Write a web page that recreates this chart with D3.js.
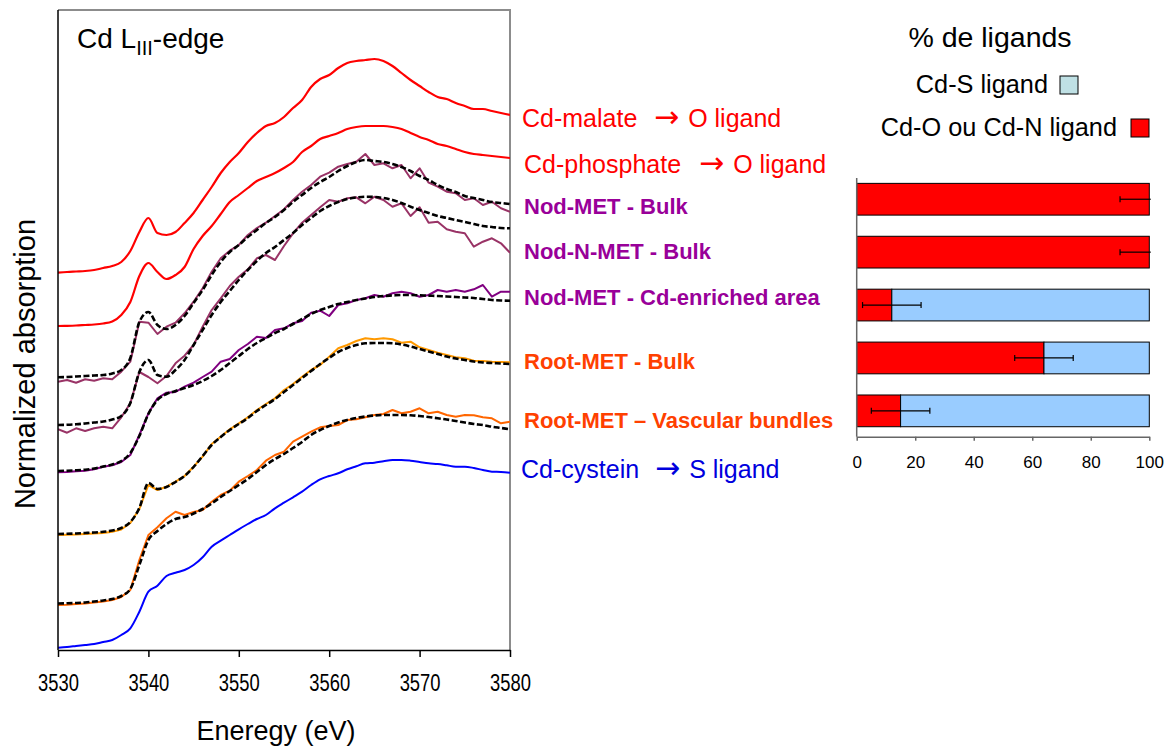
<!DOCTYPE html>
<html><head><meta charset="utf-8">
<script src="https://cdn.jsdelivr.net/npm/d3@7"></script>
<style>
html,body{margin:0;padding:0;background:#fff;}
svg{display:block;font-family:"Liberation Sans",Arial,sans-serif;}
</style></head>
<body>
<svg id="chart" width="1171" height="749"></svg>
<script>
// ---------- DATA ----------
const energy = [3530,3531,3532,3533,3534,3535,3536,3537,3538,3539,3540,
  3541,3542,3543,3544,3545,3546,3547,3548,3549,3550,
  3551,3552,3553,3554,3555,3556,3557,3558,3559,3560,
  3561,3562,3563,3564,3565,3566,3567,3568,3569,3570,
  3571,3572,3573,3574,3575,3576,3577,3578,3579,3580];
const xTicks = [3530,3540,3550,3560,3570,3580];

const cdMalate = [3.773,3.78,3.785,3.79,3.80,3.82,3.84,3.88,3.99,4.18,4.32,
  4.17,4.15,4.18,4.27,4.37,4.50,4.63,4.77,4.88,4.97,
  5.08,5.17,5.24,5.27,5.33,5.42,5.50,5.63,5.71,5.75,
  5.82,5.87,5.89,5.90,5.91,5.89,5.84,5.77,5.70,5.64,
  5.58,5.53,5.51,5.47,5.44,5.41,5.41,5.39,5.37,5.35];
const cdPhosphate = [3.24,3.242,3.245,3.25,3.255,3.265,3.285,3.35,3.48,3.74,3.87,
  3.78,3.71,3.75,3.83,4.01,4.14,4.24,4.36,4.48,4.55,
  4.62,4.69,4.73,4.77,4.82,4.88,4.98,5.04,5.11,5.14,
  5.17,5.21,5.23,5.24,5.24,5.24,5.23,5.21,5.17,5.13,
  5.10,5.06,5.04,5.01,4.98,4.96,4.95,4.94,4.93,4.92];
const nodMetBulk = [2.683,2.70,2.673,2.707,2.693,2.717,2.707,2.783,2.883,3.283,3.273,
  3.16,3.233,3.273,3.367,3.483,3.617,3.783,3.917,3.993,4.05,
  4.15,4.22,4.273,4.34,4.407,4.50,4.583,4.65,4.733,4.773,
  4.833,4.86,4.883,4.96,4.85,4.867,4.817,4.85,4.717,4.817,
  4.673,4.633,4.583,4.567,4.50,4.517,4.45,4.483,4.417,4.383];
const nodMetBulkFit = [2.727,2.73,2.735,2.74,2.745,2.75,2.765,2.80,2.92,3.28,3.38,
  3.25,3.21,3.25,3.34,3.47,3.60,3.75,3.88,3.98,4.05,
  4.13,4.20,4.27,4.33,4.40,4.48,4.55,4.62,4.68,4.73,
  4.79,4.84,4.88,4.90,4.89,4.88,4.86,4.83,4.79,4.74,
  4.70,4.65,4.61,4.58,4.54,4.52,4.50,4.48,4.47,4.46];
const nodNMetBulk = [2.207,2.173,2.217,2.19,2.217,2.233,2.217,2.327,2.467,2.78,2.73,
  2.667,2.74,2.867,2.943,3.05,3.233,3.40,3.517,3.64,3.733,
  3.807,3.917,3.95,3.90,4.04,4.167,4.273,4.35,4.427,4.50,
  4.483,4.517,4.527,4.467,4.533,4.50,4.433,4.467,4.34,4.427,
  4.273,4.283,4.207,4.183,4.167,4.033,4.083,4.117,4.067,3.973];
const nodNMetBulkFit = [2.25,2.252,2.257,2.265,2.275,2.285,2.305,2.34,2.47,2.78,2.90,
  2.75,2.733,2.80,2.90,3.05,3.20,3.35,3.48,3.59,3.70,
  3.80,3.89,3.97,4.03,4.10,4.17,4.25,4.32,4.39,4.44,
  4.48,4.51,4.525,4.533,4.53,4.52,4.50,4.47,4.433,4.40,
  4.37,4.34,4.32,4.30,4.28,4.26,4.24,4.23,4.22,4.217];
const nodMetEnriched = [1.777,1.78,1.787,1.793,1.807,1.833,1.847,1.88,1.95,2.15,2.367,
  2.517,2.573,2.58,2.633,2.673,2.73,2.783,2.883,2.91,3.00,
  3.06,3.133,3.12,3.20,3.217,3.267,3.29,3.373,3.393,3.34,
  3.45,3.467,3.50,3.517,3.55,3.533,3.567,3.583,3.567,3.533,
  3.55,3.60,3.583,3.60,3.583,3.607,3.65,3.533,3.583,3.583];
const nodMetEnrichedFit = [1.79,1.793,1.797,1.803,1.815,1.835,1.855,1.89,1.97,2.14,2.36,
  2.50,2.56,2.59,2.62,2.65,2.69,2.74,2.80,2.87,2.94,
  3.01,3.07,3.12,3.17,3.21,3.26,3.31,3.36,3.40,3.43,
  3.46,3.48,3.50,3.515,3.53,3.54,3.545,3.55,3.55,3.547,
  3.543,3.54,3.535,3.53,3.525,3.52,3.51,3.50,3.495,3.493];
const rootMetBulk = [1.15,1.153,1.155,1.16,1.165,1.17,1.183,1.205,1.27,1.41,1.65,
  1.60,1.633,1.683,1.74,1.833,1.933,2.06,2.133,2.207,2.267,
  2.327,2.40,2.46,2.517,2.60,2.66,2.733,2.80,2.85,2.933,
  3.017,3.05,3.09,3.117,3.107,3.117,3.107,3.073,3.083,3.027,
  3.00,2.973,2.95,2.927,2.917,2.893,2.89,2.883,2.88,2.877];
const rootMetBulkFit = [1.16,1.162,1.165,1.17,1.175,1.182,1.195,1.22,1.28,1.42,1.67,
  1.61,1.63,1.68,1.74,1.83,1.94,2.05,2.13,2.20,2.26,
  2.32,2.39,2.45,2.51,2.58,2.65,2.72,2.79,2.86,2.92,
  2.98,3.02,3.05,3.067,3.07,3.07,3.067,3.055,3.035,3.01,
  2.985,2.96,2.935,2.915,2.90,2.885,2.875,2.87,2.865,2.86];
const rootMetVasc = [0.45,0.453,0.46,0.465,0.475,0.485,0.50,0.53,0.60,0.90,1.15,
  1.227,1.317,1.383,1.35,1.38,1.40,1.483,1.55,1.593,1.683,
  1.74,1.80,1.893,1.95,1.983,2.083,2.133,2.183,2.227,2.24,
  2.25,2.30,2.307,2.327,2.35,2.36,2.40,2.367,2.383,2.417,
  2.367,2.383,2.35,2.333,2.35,2.347,2.327,2.317,2.267,2.283];
const rootMetVascFit = [0.465,0.467,0.47,0.475,0.485,0.495,0.51,0.54,0.61,0.85,1.10,
  1.19,1.26,1.31,1.33,1.365,1.41,1.465,1.53,1.59,1.65,
  1.71,1.78,1.85,1.91,1.96,2.02,2.08,2.15,2.20,2.24,
  2.275,2.30,2.32,2.335,2.345,2.35,2.35,2.35,2.347,2.34,
  2.33,2.317,2.305,2.29,2.275,2.26,2.25,2.233,2.22,2.207];
const cdCystein = [0.023,0.03,0.04,0.05,0.06,0.08,0.10,0.15,0.217,0.383,0.583,
  0.643,0.74,0.773,0.80,0.85,0.927,1.033,1.093,1.15,1.207,
  1.26,1.31,1.35,1.417,1.473,1.527,1.583,1.65,1.707,1.74,
  1.767,1.807,1.837,1.867,1.873,1.887,1.90,1.90,1.893,1.88,
  1.867,1.86,1.847,1.833,1.833,1.82,1.80,1.783,1.78,1.773];

// bar chart data
const barSamples = ["Nod-MET - Bulk","Nod-N-MET - Bulk","Nod-MET - Cd-enriched area","Root-MET - Bulk","Root-MET – Vascular bundles"];
const pctO = [100,100,12,64,15];
const pctS = [0,0,88,36,85];
const errO = [10,10,10,10,10];
const barTicks = [0,20,40,60,80,100];

// ---------- LAYOUT ----------
const svg = d3.select("#chart");
const M = {left:58, right:510, top:10, bottom:650};
const x = d3.scaleLinear().domain([3530,3580]).range([M.left, M.right]);
const y = d3.scaleLinear().domain([0,6.4]).range([M.bottom, M.top]);

const series = [
  {v:cdMalate, color:"#FF0000", w:2.2, curve:d3.curveMonotoneX},
  {v:cdPhosphate, color:"#FF0000", w:2.2, curve:d3.curveMonotoneX},
  {v:nodMetBulk, color:"#993366", w:2, curve:d3.curveLinear},
  {v:nodNMetBulk, color:"#993366", w:2, curve:d3.curveLinear},
  {v:nodMetEnriched, color:"#800080", w:2, curve:d3.curveLinear},
  {v:rootMetBulk, color:"#FF9900", w:2, curve:d3.curveLinear},
  {v:rootMetVasc, color:"#FF6600", w:2, curve:d3.curveLinear},
  {v:cdCystein, color:"#0000FF", w:2, curve:d3.curveMonotoneX},
  {v:nodMetBulkFit, color:"#000", w:2.6, dash:"6,2.5", curve:d3.curveMonotoneX},
  {v:nodNMetBulkFit, color:"#000", w:2.6, dash:"6,2.5", curve:d3.curveMonotoneX},
  {v:nodMetEnrichedFit, color:"#000", w:2.6, dash:"6,2.5", curve:d3.curveMonotoneX},
  {v:rootMetBulkFit, color:"#000", w:2.6, dash:"6,2.5", curve:d3.curveMonotoneX},
  {v:rootMetVascFit, color:"#000", w:2.6, dash:"6,2.5", curve:d3.curveMonotoneX}
];

svg.append("defs").append("clipPath").attr("id","clipL").append("rect")
  .attr("x",M.left).attr("y",M.top).attr("width",M.right-M.left).attr("height",M.bottom-M.top);

// frame: top and right gray
svg.append("path").attr("d",`M${M.left},${M.top}H${M.right}V${M.bottom}`)
  .attr("fill","none").attr("stroke","#8c8c8c").attr("stroke-width",2);

const gLines = svg.append("g").attr("clip-path","url(#clipL)");
series.forEach(s=>{
  const line = d3.line().x((d,i)=>x(energy[i])).y(d=>y(d)).curve(s.curve);
  gLines.append("path").datum(s.v).attr("d",line)
    .attr("fill","none").attr("stroke",s.color).attr("stroke-width",s.w)
    .attr("stroke-linejoin","round")
    .attr("stroke-dasharray",s.dash||null);
});

// left axis line (no ticks)
svg.append("line").attr("x1",M.left).attr("x2",M.left).attr("y1",M.top).attr("y2",M.bottom)
  .attr("stroke","#000").attr("stroke-width",1.5);

// bottom axis
const xAxis = svg.append("g").attr("transform",`translate(0,${M.bottom})`)
  .call(d3.axisBottom(x).tickValues(xTicks).tickFormat(d3.format("d")).tickSize(7).tickSizeOuter(0).tickPadding(18));
xAxis.select(".domain").attr("stroke","#000").attr("stroke-width",1.5);
xAxis.selectAll(".tick line").attr("stroke","#000").attr("stroke-width",1.5);
xAxis.selectAll(".tick text").attr("font-size",23).attr("fill","#000")
  .attr("font-family","'Liberation Sans',Arial,sans-serif").attr("transform","scale(0.8,1)");

// axis titles
svg.append("text").attr("x",276).attr("y",740).attr("text-anchor","middle")
  .attr("font-size",27).attr("fill","#000").text("Eneregy (eV)");
svg.append("text").attr("transform","translate(35,364) rotate(-90)").attr("text-anchor","middle")
  .attr("font-size",29).attr("fill","#000").text("Normalized absorption");

// title
const t = svg.append("text").attr("x",77).attr("y",48).attr("font-size",28).attr("fill","#000");
t.append("tspan").text("Cd L");
t.append("tspan").attr("font-size",20).attr("dy",7).text("III");
t.append("tspan").attr("dy",-7).text("-edge");

// right labels
const labels = [
  {t:"Cd-malate", lig:"O ligand", c:"#FF0000", b:false, x:522, ax:654, y:127},
  {t:"Cd-phosphate", lig:"O ligand", c:"#FF0000", b:false, x:524, ax:699, y:173},
  {t:"Nod-MET - Bulk", c:"#990099", b:true, x:524, y:214},
  {t:"Nod-N-MET - Bulk", c:"#990099", b:true, x:524, y:259},
  {t:"Nod-MET - Cd-enriched area", c:"#990099", b:true, x:524, y:305},
  {t:"Root-MET - Bulk", c:"#FF4000", b:true, x:524, y:369},
  {t:"Root-MET \u2013 Vascular bundles", c:"#FF4000", b:true, x:524, y:428},
  {t:"Cd-cystein", lig:"S ligand", c:"#0000DD", b:false, x:521, ax:655, y:478}
];
labels.forEach(l=>{
  const tx = svg.append("text").attr("x",l.x).attr("y",l.y).attr("fill",l.c)
    .attr("font-size",l.b?22:25).attr("font-weight",l.b?"bold":"normal").text(l.t);
  if(l.lig){
    tx.append("tspan").attr("x",l.ax).attr("font-family","'DejaVu Sans',sans-serif").attr("font-size",30).text("\u2192");
    tx.append("tspan").attr("dx",9).text(l.lig);
  }
});

// ---------- BAR CHART ----------
const bx = d3.scaleLinear().domain([0,100]).range([856.7,1149.3]);
const by = d3.scaleBand().domain(barSamples).range([178,436.7]).paddingInner(0.4).paddingOuter(0.145).align(0.35);

svg.append("text").attr("x",990).attr("y",47).attr("text-anchor","middle")
  .attr("font-size",28.5).attr("fill","#000").text("% de ligands");

const legend = [
  {t:"Cd-S ligand", c:"#BFE0E4", tx:1048, y:93, bx:1060},
  {t:"Cd-O ou Cd-N ligand", c:"#FF0000", tx:1117, y:136, bx:1131}
];
legend.forEach(l=>{
  svg.append("text").attr("x",l.tx).attr("y",l.y).attr("text-anchor","end")
    .attr("font-size",25.3).attr("fill","#000").text(l.t);
  svg.append("rect").attr("x",l.bx).attr("y",l.y-17).attr("width",18).attr("height",18)
    .attr("fill",l.c).attr("stroke","#000").attr("stroke-width",1);
});

const gb = svg.append("g");
barSamples.forEach((s,i)=>{
  gb.append("rect").attr("x",bx(0)).attr("y",by(s)).attr("width",bx(pctO[i])-bx(0)).attr("height",by.bandwidth())
    .attr("fill","#FF0000").attr("stroke","#000").attr("stroke-width",1);
  if(pctS[i]>0){
    gb.append("rect").attr("x",bx(pctO[i])).attr("y",by(s)).attr("width",bx(pctO[i]+pctS[i])-bx(pctO[i])).attr("height",by.bandwidth())
      .attr("fill","#99CCFF").attr("stroke","#000").attr("stroke-width",1);
  }
  const cy = by(s)+by.bandwidth()/2;
  const lo = pctO[i]-errO[i], hi = Math.min(pctO[i]+errO[i], 100.5);
  gb.append("line").attr("x1",bx(lo)).attr("x2",bx(hi)).attr("y1",cy).attr("y2",cy)
    .attr("stroke","#000").attr("stroke-width",1.2);
  gb.append("line").attr("x1",bx(lo)).attr("x2",bx(lo)).attr("y1",cy-3).attr("y2",cy+3)
    .attr("stroke","#000").attr("stroke-width",1.2);
  if(pctO[i]+errO[i] <= 100){
    gb.append("line").attr("x1",bx(hi)).attr("x2",bx(hi)).attr("y1",cy-3).attr("y2",cy+3)
      .attr("stroke","#000").attr("stroke-width",1.2);
  }
});

svg.append("line").attr("x1",bx(0)).attr("x2",bx(0)).attr("y1",178).attr("y2",436.7)
  .attr("stroke","#666").attr("stroke-width",1.5);
const bAxis = svg.append("g").attr("transform","translate(0,436.7)")
  .call(d3.axisBottom(bx).tickValues(barTicks).tickSize(4).tickSizeOuter(0).tickPadding(15));
bAxis.select(".domain").attr("stroke","#666").attr("stroke-width",1.5);
bAxis.selectAll(".tick line").attr("stroke","#666").attr("stroke-width",1.5);
bAxis.selectAll(".tick text").attr("font-size",17).attr("fill","#000")
  .attr("font-family","'Liberation Sans',Arial,sans-serif");
</script>
</body></html>
